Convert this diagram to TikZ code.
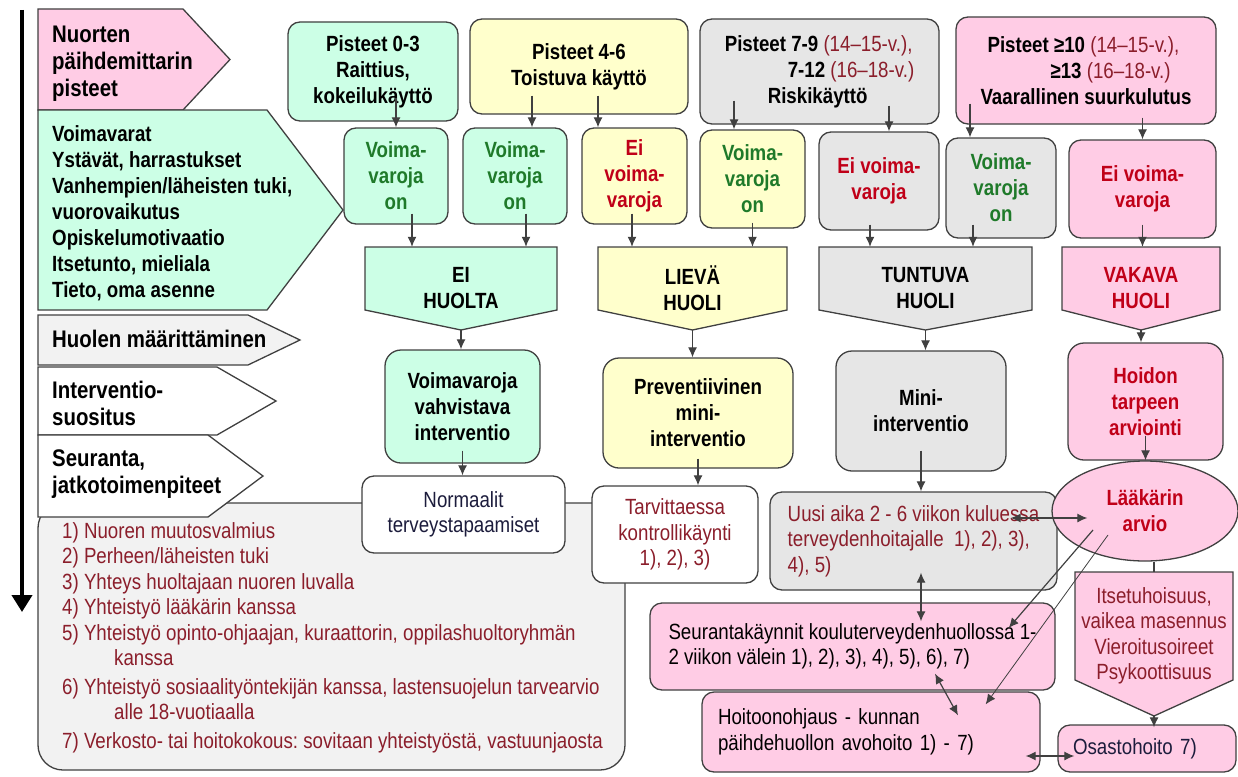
\documentclass[tikz,border=0pt]{standalone}
\usepackage{fontspec}
\setmainfont{Liberation Sans}
\newfontfamily\narrowsf{Liberation Sans}[FakeStretch=0.85]
\usetikzlibrary{arrows.meta,shapes.geometric}
\frenchspacing

\definecolor{mint}{HTML}{CCFFE6}
\definecolor{lemon}{HTML}{FFFFCC}
\definecolor{ash}{HTML}{E6E6E6}
\definecolor{rose}{HTML}{FFCCE5}
\definecolor{paper}{HTML}{F2F2F2}
\definecolor{edge}{HTML}{404040}
\definecolor{leaf}{HTML}{1F7A2A}
\definecolor{alarm}{HTML}{C00018}
\definecolor{wine}{HTML}{8B1E2B}
\definecolor{ink}{HTML}{1C1C3C}

\newcommand{\headfont}{\narrowsf\bfseries\fontsize{22}{26}\selectfont}
\newcommand{\sidefont}{\narrowsf\bfseries\fontsize{24}{27}\selectfont}
\newcommand{\notefont}{\narrowsf\fontsize{22}{25.5}\selectfont}
\newcommand{\agetext}[1]{{\mdseries\color{wine}#1}}

% pentagon pointing east: fill, left x, top y, bottom y, shoulder x, tip x
\newcommand{\penteast}[6]{%
  \draw[pent, fill=#1] (#2,#3) -- (#5,#3) -- (#6,{(#3+#4)/2}) -- (#5,#4) -- (#2,#4) -- cycle;}
% pentagon pointing south: fill, left x, right x, top y, shoulder y, tip y
\newcommand{\pentsouth}[6]{%
  \draw[pent, fill=#1] (#2,#4) -- (#3,#4) -- (#3,#5) -- ({(#2+#3)/2},#6) -- (#2,#5) -- cycle;}

\tikzset{%
  >={Latex[width=9pt,length=10pt]},
  % Specifications for style of nodes:
          box/.style = {rectangle, rounded corners=12, draw=edge, line width=1.3,
                        inner sep=0, align=center},
        score/.style = {box, font=\headfont},
        asset/.style = {box, font=\headfont},
      concern/.style = {inner sep=0, align=center, font=\headfont},
       action/.style = {box, rounded corners=16, font=\headfont},
         note/.style = {box, font=\notefont},
         side/.style = {anchor=west, inner sep=0, align=left, font=\sidefont},
         pent/.style = {draw=edge, line width=1.3},
         flow/.style = {draw=edge, line width=1.2},
}

\begin{document}
\begin{tikzpicture}[x=1pt, y=-1pt]
\useasboundingbox (0,0) rectangle (1238,776);
% Time axis on the left
\coordinate (axtop) at (22,10);
\coordinate (axend) at (22,612);
\draw[line width=4, -{Triangle[width=20pt,length=17pt]}] (axtop) -- (axend);

% Box of follow-up measures
\draw[fill=paper, draw=edge, line width=1.3, rounded corners=25] (38,503) rectangle (625,770);
\node[anchor=west, align=left, inner sep=0, font=\notefont, text=wine] (crit) at (62,637.5)
  {1) Nuoren muutosvalmius\\
   2) Perheen/läheisten tuki\\
   3) Yhteys huoltajaan nuoren luvalla\\
   4) Yhteistyö lääkärin kanssa\\
   5) Yhteistyö opinto-ohjaajan, kuraattorin, oppilashuoltoryhmän\\
   \hspace*{52pt}kanssa\\[3pt]
   6) Yhteistyö sosiaalityöntekijän kanssa, lastensuojelun tarvearvio\\
   \hspace*{52pt}alle 18-vuotiaalla\\[3pt]
   7) Verkosto- tai hoitokokous: sovitaan yhteistyöstä, vastuunjaosta};

% Labels of the left column
\penteast{rose}{38}{9}{110}{183}{230}
\penteast{mint}{38}{110}{310}{267}{343}
\penteast{paper}{38}{315}{365}{248}{300}
\penteast{white}{38}{367}{435}{217}{276}
\penteast{white}{38}{435}{517}{208}{263}
\node[side] (lpist) at (52,64) {Nuorten\\päihdemittarin\\pisteet};
\node[side, font=\headfont] (lvoim) at (52,213)
  {Voimavarat\\Ystävät, harrastukset\\Vanhempien/läheisten tuki,\\vuorovaikutus\\Opiskelumotivaatio\\Itsetunto, mieliala\\Tieto, oma asenne};
\node[side] (lhuol) at (52,339) {Huolen määrittäminen};
\node[side] (linte) at (52,403) {Interventio-\\suositus};
\node[side] (lseur) at (52,474) {Seuranta,\\jatkotoimenpiteet};

% Scores
\node[score, fill=mint, minimum width=170, minimum height=99] (b03) at (373,71.5)
  {Pisteet 0-3\\Raittius,\\kokeilukäyttö};
\node[score, fill=lemon, minimum width=218, minimum height=95] (b46) at (579,66.5)
  {Pisteet 4-6\\Toistuva käyttö};
\node[score, fill=ash, align=left, minimum width=239, minimum height=105] (b79) at (819.5,71.5)
  {Pisteet 7-9 \agetext{(14–15-v.),}\\\hspace*{63pt}7-12 \agetext{(16–18-v.)}\\\hspace*{43pt}Riskikäyttö};
\node[score, fill=rose, align=left, minimum width=260, minimum height=107] (b10) at (1086,70.5)
  {\hspace*{7pt}Pisteet ≥10 \agetext{(14–15-v.),}\\\hspace*{70pt}≥13 \agetext{(16–18-v.)}\\Vaarallinen suurkulutus};

% Resources
\node[asset, fill=mint, text=leaf, minimum width=104, minimum height=96] (v1) at (396,176) {Voima-\\varoja\\on};
\node[asset, fill=mint, text=leaf, minimum width=104, minimum height=96] (v2) at (515,176) {Voima-\\varoja\\on};
\node[asset, fill=lemon, text=alarm, minimum width=105, minimum height=96] (e1) at (634.5,176) {Ei\\voima-\\varoja};
\node[asset, fill=lemon, text=leaf, minimum width=105, minimum height=98] (v3) at (752.5,179) {Voima-\\varoja\\on};
\node[asset, fill=ash, text=alarm, minimum width=120, minimum height=98] (e2) at (879,181) {Ei voima-\\varoja};
\node[asset, fill=ash, text=leaf, minimum width=110, minimum height=100] (v4) at (1001,188) {Voima-\\varoja\\on};
\node[asset, fill=rose, text=alarm, minimum width=147, minimum height=98] (e3) at (1142.5,189) {Ei voima-\\varoja};

% Level of concern
\pentsouth{mint}{365}{557}{247}{310}{330}
\pentsouth{lemon}{598}{787}{247}{310}{330}
\pentsouth{ash}{819}{1032}{247}{310}{330}
\pentsouth{rose}{1062}{1220}{247}{310}{330}
\node[concern, minimum width=192, minimum height=83] (eih) at (461,288.5) {EI\\HUOLTA};
\node[concern, minimum width=189, minimum height=83] (lievh) at (692.5,288.5) {LIEVÄ\\HUOLI};
\node[concern, minimum width=213, minimum height=83] (tunh) at (925.5,288.5) {TUNTUVA\\HUOLI};
\node[concern, text=alarm, minimum width=158, minimum height=83] (vakh) at (1141,288.5) {VAKAVA\\HUOLI};

% Interventions
\node[action, fill=mint, minimum width=155, minimum height=113] (vahv) at (462.5,406.5) {Voimavaroja\\vahvistava\\interventio};
\node[action, fill=lemon, minimum width=190, minimum height=110] (prev) at (698,413) {Preventiivinen\\mini-\\interventio};
\node[action, fill=ash, minimum width=170, minimum height=120] (mini) at (921,411) {Mini-\\interventio};
\node[action, fill=rose, text=alarm, minimum width=155, minimum height=117] (hoid) at (1145.5,401.5) {Hoidon\\tarpeen\\arviointi};

% Follow-up
\node[note, fill=white, text=ink, minimum width=203, minimum height=77] (norm) at (463.5,514.5) {Normaalit\\terveystapaamiset};
\node[note, fill=white, text=wine, minimum width=166, minimum height=97] (tarv) at (675,534.5) {Tarvittaessa\\kontrollikäynti\\1), 2), 3)};
\node[note, fill=ash, text=wine, align=left, minimum width=287, minimum height=98] (uusi) at (913.5,541)
  {Uusi aika 2 - 6 viikon kuluessa\\terveydenhoitajalle~ 1), 2), 3),\\4), 5)};
\node[ellipse, draw=edge, line width=1.3, fill=rose, inner sep=0, align=center, font=\headfont, text=alarm,
      minimum width=186, minimum height=100] (laak) at (1145,511) {Lääkärin\\arvio};
\node[note, fill=rose, text=black, align=left, minimum width=405, minimum height=87] (seur) at (852.5,646.5)
  {Seurantakäynnit kouluterveydenhuollossa 1-\\2 viikon välein 1), 2), 3), 4), 5), 6), 7)};
\node[note, fill=rose, text=black, align=left, text width=306, minimum width=338, minimum height=80] (hoit) at (871,732)
  {Hoitoonohjaus - kunnan\\päihdehuollon avohoito 1) - 7)};
\pentsouth{rose}{1075}{1233}{572}{680}{716}
\node[inner sep=0, align=center, font=\notefont, text=wine, minimum width=158, minimum height=128] (itse) at (1154,636)
  {Itsetuhoisuus,\\vaikea masennus\\Vieroitusoireet\\Psykoottisuus};
\node[note, fill=rose, text=ink, align=left, text width=148, minimum width=178, minimum height=47] (osas) at (1147,748.5)
  {Osastohoito 7)};

% Specification of lines between nodes specified above
\draw[->, flow] ([yshift=24]b03.south -| v1.north) -- (v1.north);
\draw[->, flow] ([xshift=17,yshift=19]b46.south -| v2.north) -- ([xshift=17]v2.north);
\draw[->, flow] ([xshift=-36.5,yshift=19]b46.south -| e1.north) -- ([xshift=-36.5]e1.north);
\draw[->, flow] ([xshift=-18.5,yshift=24]b79.south -| v3.north) -- ([xshift=-18.5]v3.north);
\draw[->, flow] ([xshift=10,yshift=19]b79.south -| e2.north) -- ([xshift=10]e2.north);
\draw[->, flow] ([xshift=-31,yshift=21]b10.south -| v4.north) -- ([xshift=-31]v4.north);
\draw[->, flow] ([yshift=7]b10.south -| e3.north) -- (e3.north);

\draw[->, flow] ([xshift=16,yshift=11]v1.south) -- ([xshift=16]v1.south |- eih.north);
\draw[->, flow] ([xshift=11,yshift=11]v2.south) -- ([xshift=11]v2.south |- eih.north);
\draw[->, flow] ([xshift=-2.5,yshift=11]e1.south) -- ([xshift=-2.5]e1.south |- lievh.north);
\draw[->, flow] ([yshift=6]v3.south) -- (v3.south |- lievh.north);
\draw[->, flow] ([xshift=-9,yshift=6]e2.south) -- ([xshift=-9]e2.south |- tunh.north);
\draw[->, flow] ([xshift=-28,yshift=14]v4.south) -- ([xshift=-28]v4.south |- tunh.north);
\draw[->, flow] ([yshift=14]e3.south) -- (e3.south |- vakh.north);

\draw[->, flow] (eih.south) -- (eih.south |- vahv.north);
\draw[->, flow] (lievh.south) -- (lievh.south |- prev.north);
\draw[->, flow] (tunh.south) -- (tunh.south |- mini.north);
\draw[->, flow] (vakh.south) -- (vakh.south |- hoid.north);

\draw[->, flow] ([yshift=13]vahv.south) -- (vahv.south |- norm.north);
\draw[->, flow] ([yshift=10]prev.south) -- (prev.south |- tarv.north);
\draw[->, flow] ([yshift=21]mini.south) -- (mini.south |- uusi.north);
\draw[->, flow] ([yshift=25]hoid.south) -- (hoid.south |- laak.north);

\draw[<->, flow] ([xshift=7.5,yshift=18]uusi.south) -- ([xshift=7.5,yshift=-19]uusi.south |- seur.north);
\draw[<->, flow] ([xshift=-47,yshift=23]uusi.east) -- ([xshift=36,yshift=-7]laak.west);
\draw[->, flow] ([xshift=-52,yshift=-19]laak.center) -- ([xshift=-47,yshift=18.5]seur.east);
\draw[->, flow, line width=0.8] ([xshift=-37,yshift=-24]laak.center) -- ([xshift=-55,yshift=-13]hoit.north east);
\draw[<->, flow] ([xshift=82.5,yshift=17]seur.south) -- ([xshift=87,yshift=-24]hoit.north);
\draw[<->, flow] ([xshift=-15,yshift=-24]hoit.east) -- ([xshift=17,yshift=-7.5]osas.west);
\draw[flow] (itse.north |- laak.south) -- (itse.north);
\draw[->, flow] ([yshift=-16]itse.south) -- ([yshift=-3]itse.south |- osas.north);
\end{tikzpicture}
\end{document}
